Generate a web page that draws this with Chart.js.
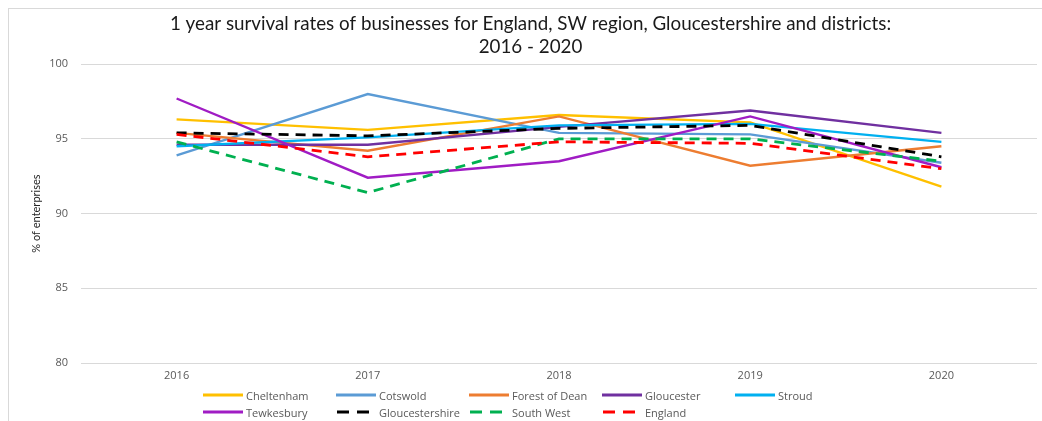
<!DOCTYPE html>
<html>
<head>
<meta charset="utf-8">
<script src="https://cdn.jsdelivr.net/npm/chart.js@4"></script>
<style>
  html, body { margin: 0; padding: 0; background: #fff; overflow: hidden; }
  #wrap { position: relative; width: 1042px; height: 421px; overflow: hidden; }
  #frame { position: absolute; left: 8px; top: 8px; width: 1100px; height: 500px; border: 1px solid #d9d9d9; box-sizing: border-box; }
  canvas { position: absolute; left: 0; top: 0; }
  #legend { position: absolute; left: 0; top: 0; width: 1042px; height: 421px; pointer-events: none; font-family: "Open Sans", sans-serif; font-size: 11px; color: #595959; }
  .item { position: absolute; display: flex; align-items: center; height: 14px; white-space: nowrap; }
  .item svg { margin-right: 3px; }
</style>
</head>
<body>
<div id="wrap">
  <div id="frame"></div>
  <canvas id="c" width="1042" height="421"></canvas>
  <div id="legend"></div>
</div>
<script>
const years = ["2016", "2017", "2018", "2019", "2020"];
const seriesNames = ["Cheltenham", "Cotswold", "Forest of Dean", "Gloucester", "Stroud", "Tewkesbury", "Gloucestershire", "South West", "England"];
const cheltenham      = [96.3, 95.6, 96.6, 96.1, 91.8];
const cotswold        = [93.9, 98.0, 95.4, 95.3, 93.4];
const forestOfDean    = [95.4, 94.2, 96.5, 93.2, 94.5];
const gloucester      = [94.6, 94.6, 95.8, 96.9, 95.4];
const stroud          = [94.5, 95.1, 95.9, 96.0, 94.8];
const tewkesbury      = [97.7, 92.4, 93.5, 96.5, 93.1];
const gloucestershire = [95.4, 95.2, 95.7, 95.9, 93.8];
const southWest       = [94.8, 91.4, 95.0, 95.0, 93.5];
const england         = [95.3, 93.8, 94.8, 94.7, 93.0];
const yTicks = [80, 85, 90, 95, 100];

const seriesValues = [cheltenham, cotswold, forestOfDean, gloucester, stroud, tewkesbury, gloucestershire, southWest, england];
const colors = ["#FFC000", "#5B9BD5", "#ED7D31", "#7030A0", "#00B0F0", "#A01CC4", "#000000", "#00B050", "#FF0000"];
const dashed = [false, false, false, false, false, false, true, true, true];

const datasets = seriesNames.map((name, i) => ({
  label: name,
  data: seriesValues[i],
  borderColor: colors[i],
  backgroundColor: colors[i],
  borderWidth: dashed[i] ? 2.8 : 2.4,
  borderDash: dashed[i] ? [10, 7] : [],
  pointRadius: 0,
  tension: 0,
  fill: false,
  order: seriesNames.length - i
}));

const chart = new Chart(document.getElementById('c'), {
  type: 'line',
  data: { labels: years, datasets },
  options: {
    responsive: false,
    animation: false,
    devicePixelRatio: 1,
    layout: { padding: { left: 24, right: 5, top: 0, bottom: 38 } },
    plugins: {
      legend: { display: false },
      tooltip: { enabled: false },
      title: {
        display: true,
        text: ["1 year survival rates of businesses for England, SW region, Gloucestershire and districts:", "2016 - 2020"],
        color: "#1a1a1a",
        font: { family: "Lato", size: 18.8, weight: "normal", lineHeight: 1.2 },
        padding: { top: 13, bottom: 6 }
      }
    },
    scales: {
      x: {
        offset: true,
        grid: { display: false, drawTicks: false },
        border: { display: false },
        ticks: { color: "#595959", font: { family: "Open Sans", size: 11 }, padding: 6, maxRotation: 0 },
        afterFit: s => { s.height = 20; }
      },
      y: {
        min: 80, max: 100,
        afterBuildTicks: s => { s.ticks = yTicks.map(v => ({ value: v })); },
        grid: { color: "#d9d9d9", lineWidth: 1, drawTicks: false },
        border: { display: false },
        ticks: { color: "#595959", font: { family: "Open Sans", size: 11 }, padding: 13 },
        title: { display: true, text: "% of enterprises", color: "#262626", font: { family: "Lato", size: 11 }, padding: { top: 6, bottom: 0 } },
        afterFit: s => { s.width = 57; }
      }
    }
  }
});

// legend (grid like the reference)
const legend = document.getElementById('legend');
const colX0 = 203, colStep = 133, rowY = [395, 412];
seriesNames.forEach((name, i) => {
  const col = i % 5, row = Math.floor(i / 5);
  const div = document.createElement('div');
  div.className = 'item';
  div.style.left = (colX0 + col * colStep) + 'px';
  div.style.top = (rowY[row] - 7) + 'px';
  const dash = dashed[i] ? 'stroke-dasharray="12 8" x1="1"' : 'x1="0"';
  div.innerHTML = '<svg width="40" height="6"><line ' + dash + ' y1="3" x2="40" y2="3" stroke="' + colors[i] + '" stroke-width="3"/></svg><span>' + name + '</span>';
  legend.appendChild(div);
});
</script>
</body>
</html>
